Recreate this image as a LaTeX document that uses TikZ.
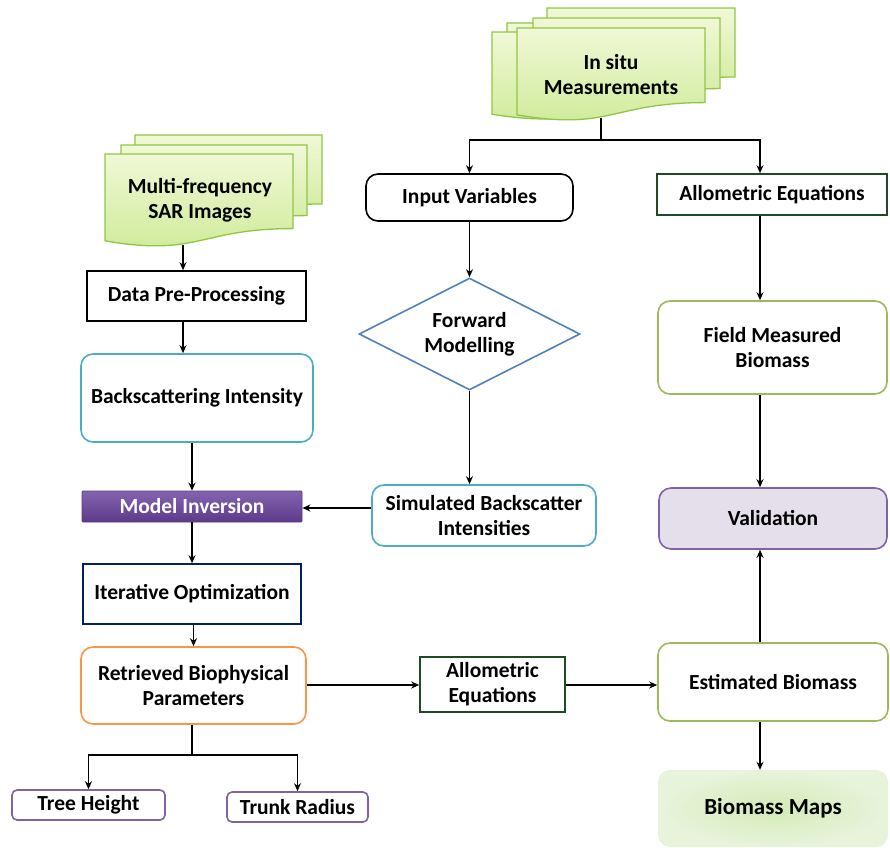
\documentclass[tikz,border=0pt]{standalone}
\usepackage{fontspec}
\setmainfont{Carlito}
\usetikzlibrary{shapes.geometric,arrows.meta,calc}
\definecolor{cyanb}{RGB}{75,172,198}
\definecolor{orangeb}{RGB}{247,150,70}
\definecolor{greenb}{RGB}{155,187,89}
\definecolor{purpleb}{RGB}{128,100,162}
\definecolor{navyb}{RGB}{0,32,96}
\definecolor{dgreen}{RGB}{30,75,35}
\definecolor{blueb}{RGB}{79,129,189}
\definecolor{lav}{RGB}{229,223,236}
\definecolor{sheetb}{RGB}{146,196,70}
\definecolor{sheettop}{RGB}{240,248,214}
\definecolor{sheetbot}{RGB}{205,234,150}
\definecolor{invtop}{RGB}{132,100,175}
\definecolor{invbot}{RGB}{92,58,138}
\definecolor{mapin}{RGB}{212,235,182}
\definecolor{mapout}{RGB}{232,243,220}
\newcommand\mysheet[4]{%
  \draw[sheet] (#1,#2) -- (#1+#3,#2) -- (#1+#3,#2+0.802*#4)
    .. controls (#1+0.5*#3,#2+0.802*#4) and (#1+0.5*#3,#2+1.108*#4) .. (#1,#2+0.934*#4) -- cycle;}
\begin{document}
\begin{tikzpicture}[x=1pt,y=-1pt,
  txt/.style={font=\bfseries\fontsize{21.5}{25}\selectfont, align=center},
  box/.style={txt, draw, line width=1.6pt, inner sep=0pt, fill=white},
  rbox/.style={box, rounded corners=12pt},
  sheet/.style={draw=sheetb, line width=1.3pt, top color=sheettop, bottom color=sheetbot},
  arr/.style={line width=1.6pt, -{Stealth[length=8pt,width=7pt]}},
  ln/.style={line width=1.6pt}]
\useasboundingbox (0,0) rectangle (890,847);
% In situ stack
\mysheet{507}{23}{188}{88}
\mysheet{492}{32}{188}{88}
\mysheet{547}{8}{188}{86}
\mysheet{533}{18}{187}{88}
\mysheet{517}{28}{188}{93}
\node[txt] (insitu) at (611,75) {In situ\\Measurements};
\coordinate (insitub) at (601,118);
% SAR stack
\mysheet{135}{135}{187}{86}
\mysheet{121}{145}{186}{88}
\mysheet{105}{154}{188}{93}
\node[txt] (sar) at (200,200) {Multi-frequency\\SAR Images};
\coordinate (sarb) at (183,245);
% boxes
\node[box, minimum width=219pt, minimum height=50pt] (pre) at (196.5,296) {Data Pre-Processing};
\node[rbox, draw=cyanb, minimum width=232pt, minimum height=88pt] (back) at (197,398) {Backscattering Intensity};
\node[txt, text=white, draw=invbot, line width=0.8pt, top color=invtop, bottom color=invbot, rounded corners=1pt, minimum width=220pt, minimum height=31pt, inner sep=0pt] (inv) at (192,506.5) {Model Inversion};
\node[box, draw=navyb, minimum width=218pt, minimum height=60pt] (iter) at (192,594) {Iterative Optimization};
\node[rbox, draw=orangeb, minimum width=225pt, minimum height=77pt] (retr) at (193.5,685.5) {Retrieved Biophysical\\Parameters};
\node[box, draw=purpleb, rounded corners=5pt, minimum width=153pt, minimum height=30pt] (tree) at (88.5,805) {Tree Height};
\node[box, draw=purpleb, rounded corners=5pt, minimum width=141pt, minimum height=30pt] (trunk) at (297.5,807) {Trunk Radius};
\node[box, draw=dgreen, minimum width=145pt, minimum height=55pt] (allo2) at (492.5,684.5) {Allometric\\Equations};
\node[rbox, draw=greenb, minimum width=230pt, minimum height=78pt] (est) at (773,682) {Estimated Biomass};
\node[rbox, draw=purpleb, fill=lav, minimum width=228pt, minimum height=61pt] (valid) at (773,518.5) {Validation};
\node[rbox, draw=greenb, minimum width=229pt, minimum height=93pt] (field) at (772.5,347.5) {Field Measured\\Biomass};
\node[box, draw=dgreen, minimum width=230pt, minimum height=41pt] (allo1) at (772,194.5) {Allometric Equations};
\node[rbox, draw=black, minimum width=207pt, minimum height=47pt] (input) at (469.5,197.5) {Input Variables};
\node[txt, diamond, draw=blueb, line width=1.6pt, aspect=1.97, minimum width=221pt, minimum height=112pt, inner sep=0pt] (fwd) at (469.5,334) {Forward\\Modelling};
\node[rbox, draw=cyanb, minimum width=224pt, minimum height=61pt] (sim) at (484,515.5) {Simulated Backscatter\\Intensities};
\node[txt, rounded corners=12pt, inner color=mapin, outer color=mapout, shading=radial, minimum width=230pt, minimum height=77pt, inner sep=0pt, font=\bfseries\fontsize{23}{27}\selectfont] (maps) at (773,808.5) {Biomass Maps};
% helper coordinates
\coordinate (rc) at (760,0);
\coordinate (lc) at (183,0);
\coordinate (j1) at (601,140);
\coordinate (j2) at (192,755);
\coordinate (yi) at (0,508);
\coordinate (ya) at (0,685);
% connectors
\draw[arr] (sarb) -- (sarb |- pre.north);
\draw[arr] (pre.south -| lc) -- (back.north -| lc);
\draw[arr] (back.south -| inv.north) -- (inv.north);
\draw[arr] (inv.south) -- (iter.north);
\draw[arr] (iter.south -| retr.south) -- (retr.north);
\draw[ln] (retr.south -| j2) -- (j2);
\draw[arr] (j2) -| (tree.north);
\draw[arr] (j2) -| (trunk.north);
\draw[arr] (retr.east |- ya) -- (allo2.west |- ya);
\draw[arr] (allo2.east |- ya) -- (est.west |- ya);
\draw[arr] (est.north -| rc) -- (valid.south -| rc);
\draw[arr] (field.south -| rc) -- (valid.north -| rc);
\draw[arr] (allo1.south -| rc) -- (field.north -| rc);
\draw[ln] (insitub) -- (j1);
\draw[arr] (j1) -| (input.north);
\draw[arr] (j1) -| (allo1.north -| rc);
\draw[arr] (input.south -| fwd.north) -- (fwd.north);
\draw[arr] (fwd.south) -- (sim.north -| fwd.south);
\draw[arr] (sim.west |- yi) -- (inv.east |- yi);
\draw[arr] (est.south -| rc) -- (maps.north -| rc);
\end{tikzpicture}
\end{document}
